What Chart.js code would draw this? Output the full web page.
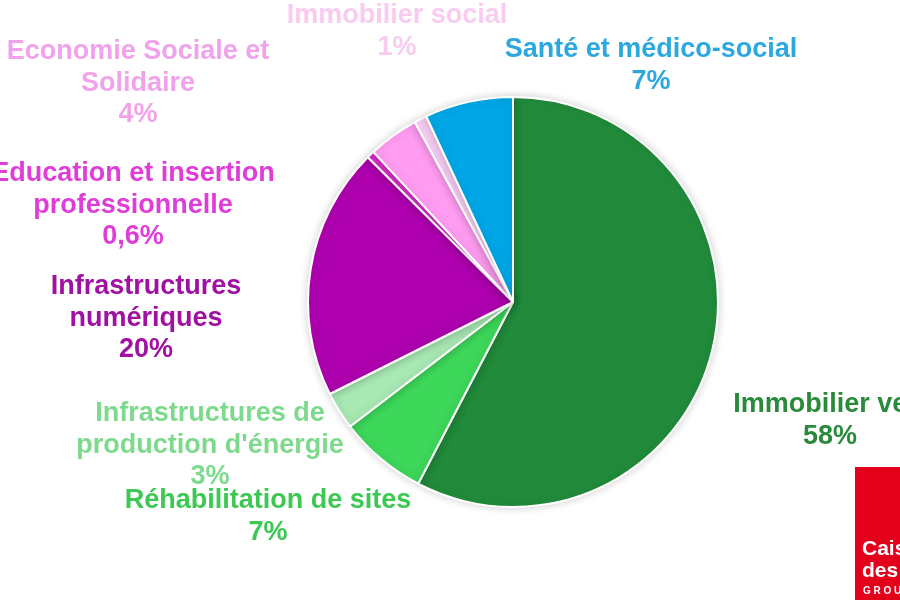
<!DOCTYPE html>
<html><head><meta charset="utf-8">
<script src="https://cdn.jsdelivr.net/npm/chart.js@4.4.1/dist/chart.umd.min.js"></script>
<style>
html,body{margin:0;padding:0;background:#fff;overflow:hidden}
#wrap{position:relative;width:900px;height:600px}
</style></head>
<body><div id="wrap"><canvas id="c" width="900" height="600"></canvas></div>
<script>
// Data
const categories = ["Immobilier vert","Réhabilitation de sites","Infrastructures de production d'énergie","Infrastructures numériques","Education et insertion professionnelle","Economie Sociale et Solidaire","Immobilier social","Santé et médico-social"];
const values = [58, 7, 3, 20, 0.6, 4, 1, 7];
const valueLabels = ["58%","7%","3%","20%","0,6%","4%","1%","7%"];
const labelLines = [["Immobilier vert"],["Réhabilitation de sites"],["Infrastructures de","production d'énergie"],["Infrastructures","numériques"],["Education et insertion","professionnelle"],["Economie Sociale et","Solidaire"],["Immobilier social"],["Santé et médico-social"]];
const sliceColors = ["#218B3B","#3DD75A","#A8E8B2","#AE00AE","#E030D2","#FF9CF2","#FBD2F8","#00A6E6"];
const textColors = ["#2A8A3C","#3CC852","#7DD98C","#A010A2","#E03CD8","#F0A2EA","#F9CBF1","#2BA8E0"];
// label anchor layout (text positions): center x, first line y
const labelLayout = [[830,405],[268,501],[210,414],[146,287],[133,174],[138,52],[397,16],[651,50]];

const shadowPlugin = {
  id:'shadow',
  beforeDatasetsDraw(chart){ const c=chart.ctx; c.save(); c.shadowColor='rgba(0,0,0,0.18)'; c.shadowBlur=10; },
  afterDatasetsDraw(chart){ chart.ctx.restore(); }
};
const labelPlugin = {
  id:'labels',
  afterDraw(chart){
    const c = chart.ctx; c.save();
    c.font = 'bold 27px "Liberation Sans", Arial, sans-serif';
    c.textAlign='center'; c.textBaseline='middle';
    const lh = 31.5;
    categories.forEach((cat,i)=>{
      const lines = labelLines[i].concat([valueLabels[i]]);
      const [x,y] = labelLayout[i];
      c.fillStyle = textColors[i];
      lines.forEach((ln,k)=>c.fillText(ln, x, y + k*lh));
    });
    // logo
    c.fillStyle='#E2001A';
    c.fillRect(855,467,50,140);
    c.fillStyle='#fff'; c.textAlign='left';
    c.font='bold 21px "Liberation Sans", Arial, sans-serif';
    c.fillText('Caisse', 862, 549);
    c.fillText('des dépôts', 862, 571);
    c.font='bold 10px "Liberation Sans", Arial, sans-serif';
    c.fillText('G R O U P E', 863, 591);
    c.restore();
  }
};

new Chart(document.getElementById('c'), {
  type:'pie',
  data:{ labels:categories, datasets:[{ data:values, backgroundColor:sliceColors, borderColor:'#ffffff', borderWidth:2 }]},
  options:{
    responsive:false, animation:false,
    layout:{ padding:{ top:96, bottom:92, left:307, right:181 } },
    plugins:{ legend:{display:false}, tooltip:{enabled:false} }
  },
  plugins:[shadowPlugin,labelPlugin]
});
</script></body></html>
